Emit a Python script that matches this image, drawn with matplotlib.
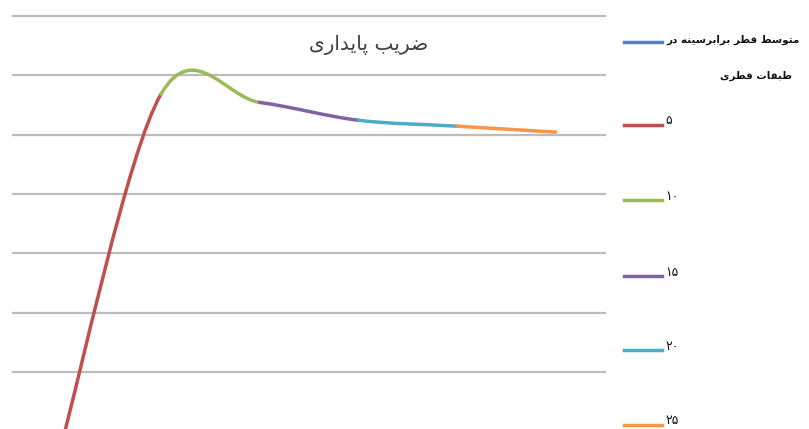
import matplotlib
matplotlib.use("Agg")
import matplotlib.pyplot as plt
from matplotlib.path import Path
from matplotlib.patches import PathPatch
from matplotlib.lines import Line2D
import numpy as np

# ---- data -------------------------------------------------------------
class_labels = ["0", "5", "10", "15", "20", "25"]
stability = [0.85, 6.68, 6.54, 6.24, 6.14, 6.04]
segment_colors = ["#C0504D", "#9BBB59", "#8064A2", "#4BACC6", "#F79646"]
legend_labels = ["متوسط قطر برابرسینه در\nطبقات قطری", "۵", "۱۰", "۱۵", "۲۰", "۲۵"]
legend_colors = ["#4F81BD"] + segment_colors
title_text = "ضریب پایداری"
grid_values = [1, 2, 3, 4, 5, 6, 7, 8]

# ---- minimal Arabic/Persian contextual shaping ------------------------
# (isolated, final, initial, medial); None => letter does not join leftwards
FORMS = {
    "ا": ("\uFE8D", "\uFE8E", None, None),
    "ب": ("\uFE8F", "\uFE90", "\uFE91", "\uFE92"),
    "پ": ("\uFB56", "\uFB57", "\uFB58", "\uFB59"),
    "ت": ("\uFE95", "\uFE96", "\uFE97", "\uFE98"),
    "د": ("\uFEA9", "\uFEAA", None, None),
    "ر": ("\uFEAD", "\uFEAE", None, None),
    "س": ("\uFEB1", "\uFEB2", "\uFEB3", "\uFEB4"),
    "ض": ("\uFEBD", "\uFEBE", "\uFEBF", "\uFEC0"),
    "ط": ("\uFEC1", "\uFEC2", "\uFEC3", "\uFEC4"),
    "ق": ("\uFED5", "\uFED6", "\uFED7", "\uFED8"),
    "م": ("\uFEE1", "\uFEE2", "\uFEE3", "\uFEE4"),
    "ن": ("\uFEE5", "\uFEE6", "\uFEE7", "\uFEE8"),
    "ه": ("\uFEE9", "\uFEEA", "\uFEEB", "\uFEEC"),
    "و": ("\uFEED", "\uFEEE", None, None),
    "ی": ("\uFBFC", "\uFBFD", "\uFBFE", "\uFBFF"),
}


def shape_line(text):
    out = []
    n = len(text)
    for i, ch in enumerate(text):
        f = FORMS.get(ch)
        if f is None:
            out.append(ch)
            continue
        prev = text[i - 1] if i > 0 else ""
        nxt = text[i + 1] if i < n - 1 else ""
        join_prev = prev in FORMS and FORMS[prev][2] is not None
        join_next = f[2] is not None and nxt in FORMS
        if join_prev and join_next:
            out.append(f[3])
        elif join_prev:
            out.append(f[1])
        elif join_next:
            out.append(f[2])
        else:
            out.append(f[0])
    has_letters = any(c in FORMS for c in text)
    return "".join(reversed(out)) if has_letters else "".join(out)


def shape(text):
    return "\n".join(shape_line(t) for t in text.split("\n"))


# ---- figure -----------------------------------------------------------
W, H = 809, 429
fig = plt.figure(figsize=(W / 100, H / 100), dpi=100)
fig.patch.set_facecolor("white")


def fx(px):
    return px / W


def fy(py):
    return 1 - py / H


top_px, step_px = 15.7, 59.4
bottom_px = top_px + step_px * (len(grid_values) - 1)
ax = fig.add_axes([fx(13), fy(bottom_px), fx(605) - fx(13), (bottom_px - top_px) / H])
ax.set_xlim(-0.5, len(class_labels) - 0.5)
ax.set_ylim(grid_values[0], grid_values[-1])
for s in ax.spines.values():
    s.set_visible(False)
ax.set_xticks([])
ax.set_yticks([])
for g in grid_values:
    ax.axhline(g, color="#BDBDBD", lw=1.6, zorder=1, clip_on=False)

# smoothed line, one coloured piece per interval (Bezier, tension 1/6)
x = np.arange(len(class_labels), dtype=float)
y = np.asarray(stability, dtype=float)
pts = np.column_stack([x, y])
n = len(pts)
for i in range(n - 1):
    p_prev = pts[i - 1] if i > 0 else pts[i]
    p0, p1 = pts[i], pts[i + 1]
    p_next = pts[i + 2] if i + 2 < n else pts[i + 1]
    c1 = p0 + (p1 - p_prev) / 6.0
    c2 = p1 - (p_next - p0) / 6.0
    path = Path([p0, c1, c2, p1], [Path.MOVETO, Path.CURVE4, Path.CURVE4, Path.CURVE4])
    ax.add_patch(PathPatch(path, facecolor="none", edgecolor=segment_colors[i],
                           lw=2.5, capstyle="round", zorder=3))

fig.text(fx(369), fy(45), shape(title_text), ha="center", va="center",
         fontsize=14.5, color="#404040", family="DejaVu Sans")

# legend
legend_y = [42, 125, 200, 276, 350, 425]
for lab, col, ly in zip(legend_labels, legend_colors, legend_y):
    fig.add_artist(Line2D([fx(624), fx(662)], [fy(ly), fy(ly)], color=col, lw=2.5))
    lines = shape(lab).split("\n")
    if len(lines) == 1:
        fig.text(fx(665), fy(ly - 4), lines[0], ha="left", va="center",
                 fontsize=9, color="#111111", family="DejaVu Sans")
    else:
        fig.text(fx(666), fy(ly - 2), lines[0], ha="left", va="center",
                 fontsize=7.5, fontweight="bold", color="#111111", family="DejaVu Sans")
        fig.text(fx(756), fy(ly + 34), lines[1], ha="center", va="center",
                 fontsize=7.5, fontweight="bold", color="#111111", family="DejaVu Sans")

fig.savefig("out.png", dpi=100, facecolor="white")
